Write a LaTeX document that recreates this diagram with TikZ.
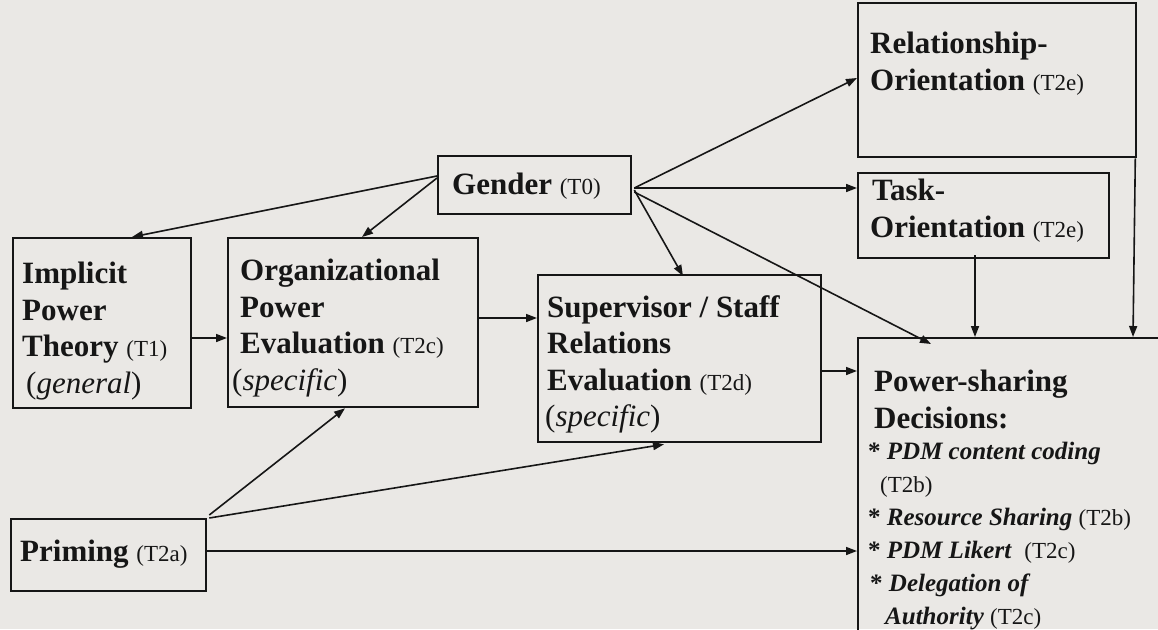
\documentclass[tikz,border=0pt]{standalone}
\usepackage{fontspec}
\setmainfont{Liberation Serif}
\usetikzlibrary{arrows.meta,calc}
\definecolor{paper}{RGB}{234,232,229}
\definecolor{ink}{RGB}{22,22,22}
\newcommand\tsm[1]{{\fontsize{23}{36.5}\selectfont\mdseries\upshape #1}}
\newcommand\tit[1]{{\mdseries\upshape (\textit{#1})}}
\begin{document}
\begin{tikzpicture}[x=1pt,y=-1pt,
  box/.style={draw=ink,line width=2.3pt,anchor=north west,inner sep=0pt,rectangle},
  txt/.style={anchor=north west,inner sep=0pt,align=left,text=ink,font=\fontsize{31}{36.5}\selectfont\bfseries},
  btxt/.style={anchor=north west,inner sep=0pt,align=left,text=ink,font=\fontsize{25}{33}\selectfont\bfseries},
  arr/.style={draw=ink,line width=1.6pt,-{Triangle[length=11pt,width=8pt]}}]
\useasboundingbox (0,0) rectangle (1158,629);
\fill[paper] (0,0) rectangle (1158,629);
% boxes
\node[box,minimum width=178pt,minimum height=170pt] (impl) at (12,237) {};
\node[box,minimum width=250pt,minimum height=169pt] (org) at (227,237) {};
\node[box,minimum width=193pt,minimum height=58pt] (gender) at (437,155) {};
\node[box,minimum width=283pt,minimum height=167pt] (sup) at (537,274) {};
\node[box,minimum width=278pt,minimum height=154pt] (rel) at (857,2) {};
\node[box,minimum width=251pt,minimum height=85pt] (task) at (857,172) {};
\node[box,minimum width=330pt,minimum height=320pt] (pow) at (857,337) {};
\node[box,minimum width=195pt,minimum height=72pt] (prim) at (10,518) {};
% texts
\node[txt] (implT) at (22,262) {Implicit\\Power\\Theory \tsm{(T1)}\\\hspace*{4pt}\tit{general}};
\node[txt] (orgT) at (240,259) {Organizational\\Power\\Evaluation \tsm{(T2c)}\\\hspace*{-8pt}\tit{specific}};
\node[txt,anchor=west] (genT) at (452,186) {Gender \tsm{(T0)}};
\node[txt] (supT) at (547,295) {Supervisor / Staff\\Relations\\Evaluation \tsm{(T2d)}\\\hspace*{-2pt}\tit{specific}};
\node[txt] (relT) at (870,32) {Relationship-\\Orientation \tsm{(T2e)}};
\node[txt] (taskT) at (870,179) {\hspace*{2pt}Task-\\Orientation \tsm{(T2e)}};
\node[txt] (powT) at (874,370) {Power-sharing\\Decisions:};
\node[btxt] (bulT) at (868,442) {* \textit{PDM content coding}\\\hspace*{12pt}\tsm{(T2b)}\\* \textit{Resource Sharing} \tsm{(T2b)}\\* \textit{PDM Likert} \ \tsm{(T2c)}\\\hspace*{2pt}* \textit{Delegation of}\\\hspace*{17pt}\textit{Authority} \tsm{(T2c)}};
\node[txt,anchor=west] (primT) at (20,554) {Priming \tsm{(T2a)}};
% connectors
\draw[arr] ($(gender.north west)+(0,21)$) -- ($(impl.north west)+(120,0)$);
\draw[arr] ($(gender.north west)+(0,23)$) -- ($(org.north west)+(135,0)$);
\draw[arr] ($(gender.north east)+(2,33)$) -- ($(rel.north west)+(0,76)$);
\draw[arr] ($(gender.north east)+(2,33)$) -- ($(task.north west)+(0,16)$);
\draw[arr] ($(gender.north east)+(2,35)$) -- ($(sup.north west)+(146,2)$);
\draw[arr] ($(gender.north east)+(2,37)$) -- ($(pow.north west)+(74,7)$);
\draw[arr] (impl.east |- 0,338) -- (org.west |- 0,338);
\draw[arr] (org.east |- 0,318) -- (sup.west |- 0,318);
\draw[arr] (sup.east |- 0,371) -- (pow.west |- 0,371);
\draw[arr] ($(task.south west)+(118,-4)$) -- ($(pow.north west)+(118,0)$);
\draw[arr] ($(rel.south east)+(-2,0)$) -- ($(pow.north west)+(276,0)$);
\draw[arr] ($(prim.north east)+(2,-3)$) -- ($(org.south west)+(118,0)$);
\draw[arr] ($(prim.north east)+(2,0)$) -- ($(sup.south west)+(127,1)$);
\draw[arr] (prim.east |- 0,551) -- (pow.west |- 0,551);
\end{tikzpicture}
\end{document}
